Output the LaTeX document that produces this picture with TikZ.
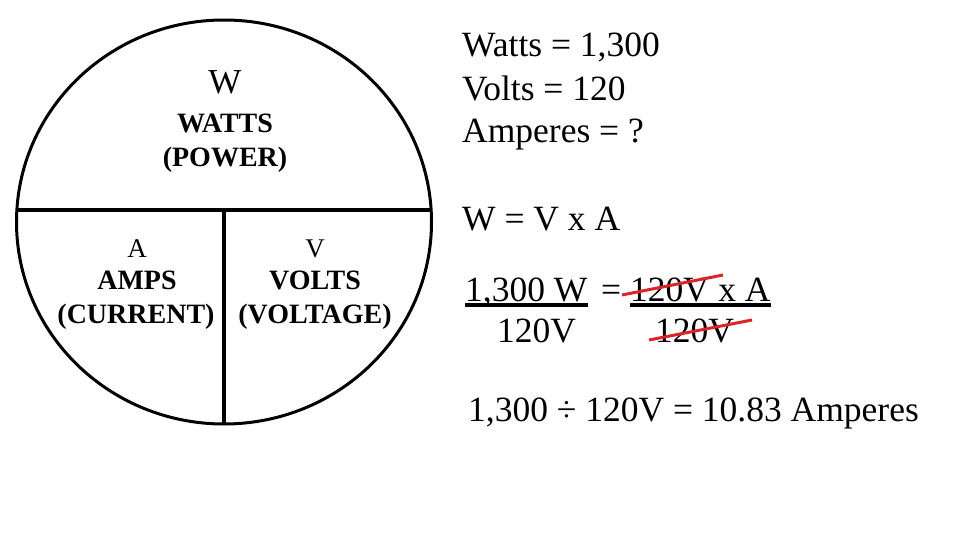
\documentclass[tikz,border=0pt]{standalone}
\usepackage{fontspec}
\setmainfont{Liberation Serif}
\usepackage{xcolor}
\usepackage{tikz}
\usetikzlibrary{positioning, shapes.geometric}

\definecolor{strikered}{RGB}{218,38,42}

\begin{document}
\begin{tikzpicture}[
    x=1pt, y=-1pt,
    ring/.style={draw=black, line width=3pt},
    divider/.style={draw=black, line width=3.2pt},
    bigletter/.style={font=\fontsize{35}{38}\selectfont, inner sep=0pt, anchor=base},
    letter/.style={font=\fontsize{27}{30}\selectfont, inner sep=0pt, anchor=base},
    label/.style={font=\fontsize{28}{30}\selectfont\bfseries, inner sep=0pt, anchor=base},
    given/.style={font=\fontsize{35.5}{38}\selectfont, inner sep=0pt, anchor=base west},
    fracbar/.style={line width=3.5pt, black},
    strike/.style={line width=3pt, strikered}
]

    \useasboundingbox[fill=white] (0,0) rectangle (960,540);

    % The magic circle: power on top, current and voltage below.
    \draw[ring] (224,222) ellipse [x radius=207.5pt, y radius=202pt];
    \coordinate (hub) at (224,210);
    \coordinate (rimwest) at (17,210);
    \coordinate (rimeast) at (431,210);
    \coordinate (rimsouth) at (224,424);
    \draw[divider] (rimwest) -- (rimeast);
    \draw[divider] (hub) -- (rimsouth);

    \node[bigletter] (wsym) at (225,94) {W};
    \node[label] (watts) at (225,133) {WATTS};
    \node[label] (power) at (225,167) {(POWER)};

    \node[letter] (asym) at (137,257) {A};
    \node[label] (amps) at (137,289) {AMPS};
    \node[label] (current) at (136,323) {(CURRENT)};

    \node[letter] (vsym) at (315,257) {V};
    \node[label] (volts) at (315,289) {VOLTS};
    \node[label] (voltage) at (315,323) {(VOLTAGE)};

    % Given values and the formula.
    \node[given] (givenw) at (462,57) {Watts = 1,300};
    \node[given] (givenv) at (462,101) {Volts = 120};
    \node[given] (givena) at (462,143) {Amperes = ?};
    \node[given] (formula) at (462,230) {W = V x A};

    % Both sides divided by the voltage.
    \node[given] (numw) at (465,301) {1,300 W};
    \node[given] (equals) at (601,301) {=};
    \node[given] (numv) at (630,301) {120V};
    \node[given, right=0pt of numv.base east, anchor=base west] (numa) {~x A};
    \node[given] (denw) at (497,342) {120V};
    \node[given] (denv) at (655,342) {120V};

    \draw[fracbar] ([yshift=-4pt]numw.base west) -- ([yshift=-4pt]numw.base east);
    \draw[fracbar] ([yshift=-4pt]numv.base west) -- ([yshift=-4pt]numa.base east);
    \draw[strike] ([xshift=-8pt, yshift=6pt]numv.base west) -- ([xshift=93pt, yshift=26pt]numv.base west);
    \draw[strike] ([xshift=-6pt, yshift=2pt]denv.base west) -- ([xshift=97pt, yshift=22pt]denv.base west);

    \node[given] (answer) at (468,421) {1,300 ÷ 120V = 10.83 Amperes};

\end{tikzpicture}
\end{document}
